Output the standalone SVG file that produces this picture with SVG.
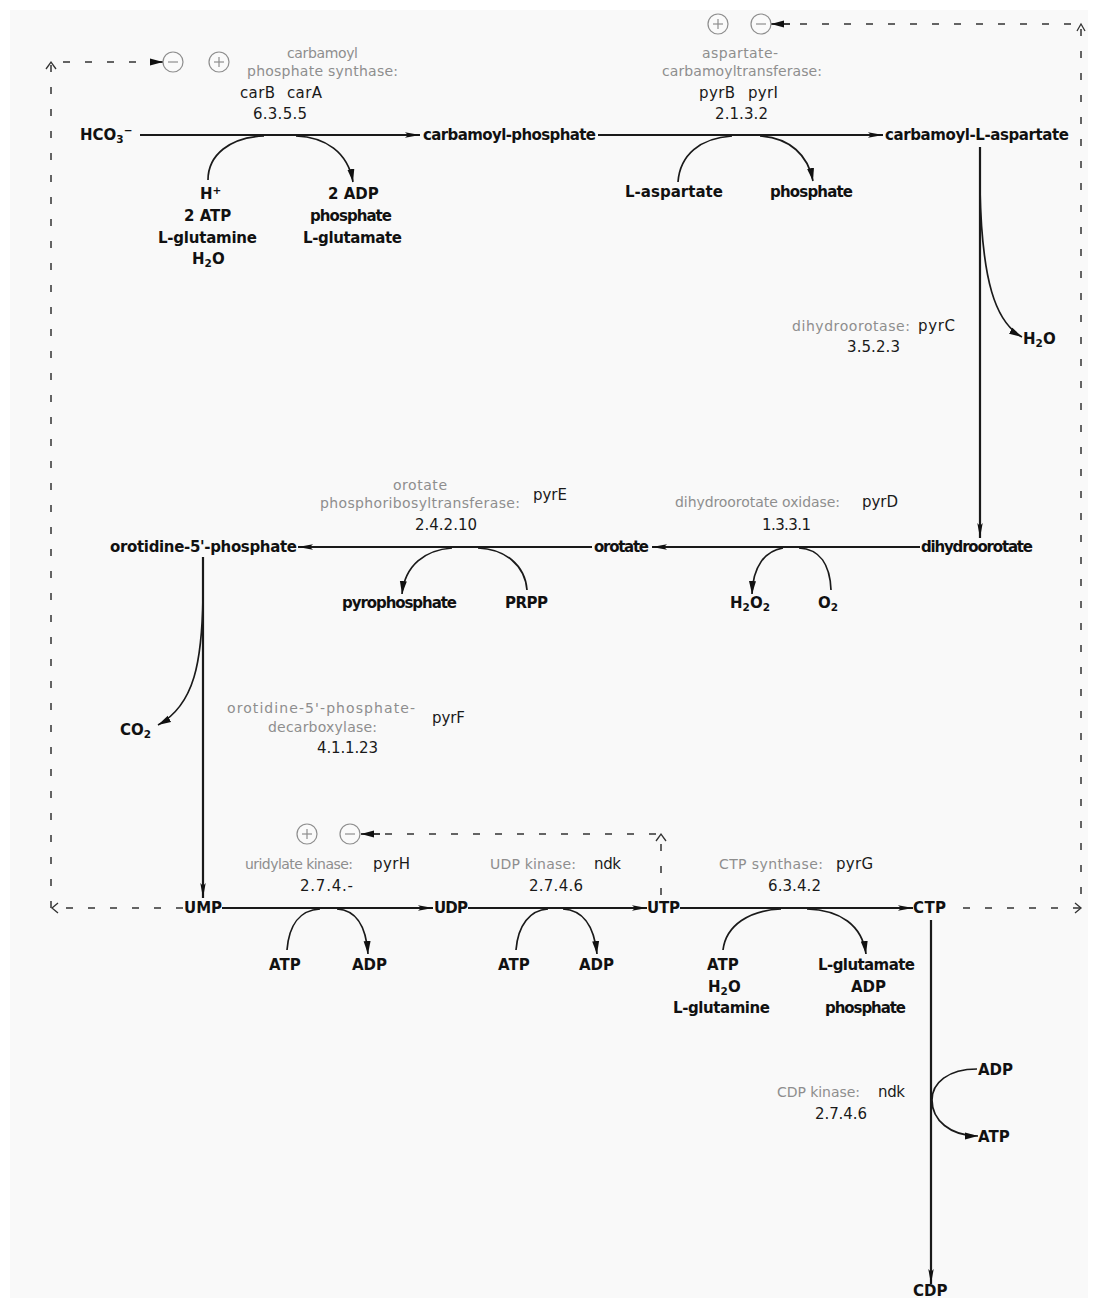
<svg xmlns="http://www.w3.org/2000/svg" width="1110" height="1298" viewBox="0 0 1110 1298">
<style>
.g{font-family:"DejaVu Sans","Liberation Sans",sans-serif;font-size:14px;fill:#8e8e8e}
.k{font-family:"DejaVu Sans","Liberation Sans",sans-serif;font-size:15px;fill:#1a1a1a}
.b{font-family:"DejaVu Sans","Liberation Sans",sans-serif;font-size:15px;font-weight:bold;fill:#111}
.s{font-size:10.5px}
.main{fill:none;stroke:#1a1a1a;stroke-width:2.2}
.side{fill:none;stroke:#1a1a1a;stroke-width:1.7}
.dash{fill:none;stroke:#333;stroke-width:1.5;stroke-dasharray:7 15}
.open{fill:none;stroke:#333;stroke-width:1.3}
.mod circle{fill:#fafafa;stroke:#8e8e8e;stroke-width:1.2}
.mod line{stroke:#8e8e8e;stroke-width:1.2}
</style>
<defs>
<marker id="ah" markerUnits="userSpaceOnUse" markerWidth="16" markerHeight="10" refX="15" refY="5" orient="auto">
<path d="M0,2.3 L15,5 L0,7.7 L3,5 Z" fill="#111"/>
</marker>
<marker id="ac" markerUnits="userSpaceOnUse" markerWidth="14" markerHeight="10" refX="13" refY="5" orient="auto">
<path d="M0,1.5 L13,5 L0,8.5 Z" fill="#111"/>
</marker>
</defs>
<rect x="0" y="0" width="1110" height="1298" fill="#ffffff"/>
<rect x="10" y="10" width="1078" height="1288" fill="#f9f9f9"/>

<g id="connectors">
<path class="main" d="M140,135 L420,135" marker-end="url(#ah)"/>
<path class="main" d="M598,135 L883,135" marker-end="url(#ah)"/>
<path class="main" d="M980,147 L980,538" marker-end="url(#ah)"/>
<path class="main" d="M920,547 L652,547" marker-end="url(#ah)"/>
<path class="main" d="M592,547 L298,547" marker-end="url(#ah)"/>
<path class="main" d="M203,557 L203,898" marker-end="url(#ah)"/>
<path class="main" d="M222,908 L433,908" marker-end="url(#ah)"/>
<path class="main" d="M468,908 L647,908" marker-end="url(#ah)"/>
<path class="main" d="M680,908 L913,908" marker-end="url(#ah)"/>
<path class="main" d="M931,920 L931,1284" marker-end="url(#ah)"/>
<path class="side" d="M208,180 C208,155 230,137 264,136"/>
<path class="side" d="M296,136 C325,137 348,152 353,182" marker-end="url(#ac)"/>
<path class="side" d="M678,182 C680,155 700,138 732,136"/>
<path class="side" d="M760,136 C790,138 808,155 813,181" marker-end="url(#ac)"/>
<path class="side" d="M980,190 C982,280 995,322 1022,337" marker-end="url(#ac)"/>
<path class="side" d="M452,548 C425,550 405,565 402,594" marker-end="url(#ac)"/>
<path class="side" d="M527,590 C525,565 505,549 478,548"/>
<path class="side" d="M783,548 C765,551 753,566 752,594" marker-end="url(#ac)"/>
<path class="side" d="M831,590 C830,565 820,549 799,548"/>
<path class="side" d="M203,597 C202,660 195,705 158,725" marker-end="url(#ac)"/>
<path class="side" d="M287,950 C289,925 300,910 320,909"/>
<path class="side" d="M337,909 C355,910 366,925 368,954" marker-end="url(#ac)"/>
<path class="side" d="M516,950 C518,925 530,910 548,909"/>
<path class="side" d="M563,909 C582,910 594,925 597,954" marker-end="url(#ac)"/>
<path class="side" d="M723,950 C726,925 750,910 781,909"/>
<path class="side" d="M807,909 C840,910 862,925 866,954" marker-end="url(#ac)"/>
<path class="side" d="M977,1069 C948,1069 932,1083 932,1100 C932,1120 950,1136 978,1136" marker-end="url(#ac)"/>
<path class="dash" d="M183,908 L51,908 L51,62 L150,62"/>
<path class="side" d="M150,62 L163,62" marker-end="url(#ac)"/>
<path class="dash" d="M963,908 L1081,908 L1081,24 L790,24"/>
<path class="side" d="M790,24 L771,24" marker-end="url(#ac)"/>
<path class="dash" d="M661,895 L661,834 L380,834"/>
<path class="side" d="M380,834 L361,834" marker-end="url(#ac)"/>
<polyline class="open" points="58,903 52,908 58,913"/>
<polyline class="open" points="46,69 51,62 56,69"/>
<polyline class="open" points="1075,903 1081,908 1075,913"/>
<polyline class="open" points="1077,31 1081,24 1085,31"/>
<polyline class="open" points="656,841 661,834 666,841"/>
</g>

<g id="mod-cps" class="mod">
<circle cx="173" cy="62" r="10"/><line x1="168" y1="62" x2="178" y2="62"/>
<circle cx="219" cy="62" r="10"/><line x1="214" y1="62" x2="224" y2="62"/><line x1="219" y1="57" x2="219" y2="67"/>
</g>
<g id="mod-atc" class="mod">
<circle cx="718" cy="24" r="10"/><line x1="713" y1="24" x2="723" y2="24"/><line x1="718" y1="19" x2="718" y2="29"/>
<circle cx="761" cy="24" r="10"/><line x1="756" y1="24" x2="766" y2="24"/>
</g>
<g id="mod-pyrh" class="mod">
<circle cx="307" cy="834" r="10"/><line x1="302" y1="834" x2="312" y2="834"/><line x1="307" y1="829" x2="307" y2="839"/>
<circle cx="350" cy="834" r="10"/><line x1="345" y1="834" x2="355" y2="834"/>
</g>

<g id="enz-cps">
<text class="g" x="287" y="58" textLength="71">carbamoyl</text>
<text class="g" x="247" y="76" textLength="151">phosphate synthase:</text>
<text class="k" x="240" y="98" textLength="35">carB</text>
<text class="k" x="287" y="98" textLength="35">carA</text>
<text class="k" x="253" y="119" textLength="54">6.3.5.5</text>
</g>
<g id="enz-atc">
<text class="g" x="702" y="58" textLength="76">aspartate-</text>
<text class="g" x="662" y="76" textLength="160">carbamoyltransferase:</text>
<text class="k" x="699" y="98" textLength="36">pyrB</text>
<text class="k" x="748" y="98" textLength="30">pyrI</text>
<text class="k" x="715" y="119" textLength="53">2.1.3.2</text>
</g>
<g id="enz-dho">
<text class="g" x="792" y="331" textLength="118">dihydroorotase:</text>
<text class="k" x="918" y="331" textLength="37">pyrC</text>
<text class="k" x="847" y="352" textLength="53">3.5.2.3</text>
</g>
<g id="enz-dhod">
<text class="g" x="675" y="507" textLength="165">dihydroorotate oxidase:</text>
<text class="k" x="862" y="507" textLength="36">pyrD</text>
<text class="k" x="762" y="530" textLength="49">1.3.3.1</text>
</g>
<g id="enz-oprt">
<text class="g" x="393" y="490" textLength="54">orotate</text>
<text class="g" x="320" y="508" textLength="200">phosphoribosyltransferase:</text>
<text class="k" x="533" y="500" textLength="34">pyrE</text>
<text class="k" x="415" y="530" textLength="62">2.4.2.10</text>
</g>
<g id="enz-ompdc">
<text class="g" x="227" y="713" textLength="188">orotidine-5'-phosphate-</text>
<text class="g" x="268" y="732" textLength="109">decarboxylase:</text>
<text class="k" x="432" y="723" textLength="33">pyrF</text>
<text class="k" x="317" y="753" textLength="61">4.1.1.23</text>
</g>
<g id="enz-pyrh">
<text class="g" x="245" y="869" textLength="108">uridylate kinase:</text>
<text class="k" x="373" y="869" textLength="37">pyrH</text>
<text class="k" x="300" y="891" textLength="53">2.7.4.-</text>
</g>
<g id="enz-udpk">
<text class="g" x="490" y="869" textLength="86">UDP kinase:</text>
<text class="k" x="594" y="869" textLength="27">ndk</text>
<text class="k" x="529" y="891" textLength="54">2.7.4.6</text>
</g>
<g id="enz-ctps">
<text class="g" x="719" y="869" textLength="104">CTP synthase:</text>
<text class="k" x="836" y="869" textLength="37">pyrG</text>
<text class="k" x="768" y="891" textLength="53">6.3.4.2</text>
</g>
<g id="enz-cdpk">
<text class="g" x="777" y="1097" textLength="83">CDP kinase:</text>
<text class="k" x="878" y="1097" textLength="27">ndk</text>
<text class="k" x="815" y="1119" textLength="52">2.7.4.6</text>
</g>

<g id="hco3"><text class="b" x="80" y="140">HCO<tspan class="s" dy="3">3</tspan><tspan class="s" dy="-9">−</tspan></text></g>
<g id="carbamoyl-phosphate"><text class="b" x="423" y="140" textLength="173">carbamoyl-phosphate</text></g>
<g id="carbamoyl-L-aspartate"><text class="b" x="885" y="140" textLength="184">carbamoyl-L-aspartate</text></g>
<g id="cps-in">
<text class="b" x="200" y="199">H<tspan class="s" dy="-5">+</tspan></text>
<text class="b" x="184" y="221">2 ATP</text>
<text class="b" x="158" y="243" textLength="99">L-glutamine</text>
<text class="b" x="192" y="264">H<tspan class="s" dy="3">2</tspan><tspan dy="-3">O</tspan></text>
</g>
<g id="cps-out">
<text class="b" x="328" y="199">2 ADP</text>
<text class="b" x="310" y="221" textLength="82">phosphate</text>
<text class="b" x="303" y="243" textLength="99">L-glutamate</text>
</g>
<g id="L-aspartate"><text class="b" x="625" y="197" textLength="98">L-aspartate</text></g>
<g id="phosphate-1"><text class="b" x="770" y="197" textLength="83">phosphate</text></g>
<g id="h2o-1"><text class="b" x="1023" y="344">H<tspan class="s" dy="3">2</tspan><tspan dy="-3">O</tspan></text></g>
<g id="dihydroorotate"><text class="b" x="921" y="552" textLength="112">dihydroorotate</text></g>
<g id="orotate"><text class="b" x="594" y="552" textLength="55">orotate</text></g>
<g id="orotidine-5-phosphate"><text class="b" x="110" y="552" textLength="187">orotidine-5'-phosphate</text></g>
<g id="h2o2"><text class="b" x="730" y="608">H<tspan class="s" dy="3">2</tspan><tspan dy="-3">O</tspan><tspan class="s" dy="3">2</tspan></text></g>
<g id="o2"><text class="b" x="818" y="608">O<tspan class="s" dy="3">2</tspan></text></g>
<g id="pyrophosphate"><text class="b" x="342" y="608" textLength="115">pyrophosphate</text></g>
<g id="prpp"><text class="b" x="505" y="608" textLength="43">PRPP</text></g>
<g id="co2"><text class="b" x="120" y="735">CO<tspan class="s" dy="3">2</tspan></text></g>
<g id="UMP"><text class="b" x="184" y="913" textLength="38">UMP</text></g>
<g id="UDP"><text class="b" x="434" y="913" textLength="34">UDP</text></g>
<g id="UTP"><text class="b" x="647" y="913" textLength="33">UTP</text></g>
<g id="CTP"><text class="b" x="913" y="913" textLength="33">CTP</text></g>
<g id="pyrh-side">
<text class="b" x="269" y="970">ATP</text>
<text class="b" x="352" y="970">ADP</text>
</g>
<g id="udpk-side">
<text class="b" x="498" y="970">ATP</text>
<text class="b" x="579" y="970">ADP</text>
</g>
<g id="ctps-in">
<text class="b" x="707" y="970">ATP</text>
<text class="b" x="708" y="992">H<tspan class="s" dy="3">2</tspan><tspan dy="-3">O</tspan></text>
<text class="b" x="673" y="1013" textLength="97">L-glutamine</text>
</g>
<g id="ctps-out">
<text class="b" x="818" y="970" textLength="97">L-glutamate</text>
<text class="b" x="851" y="992">ADP</text>
<text class="b" x="825" y="1013" textLength="81">phosphate</text>
</g>
<g id="cdpk-side">
<text class="b" x="978" y="1075">ADP</text>
<text class="b" x="978" y="1142">ATP</text>
</g>
<g id="CDP"><text class="b" x="913" y="1296">CDP</text></g>
</svg>
